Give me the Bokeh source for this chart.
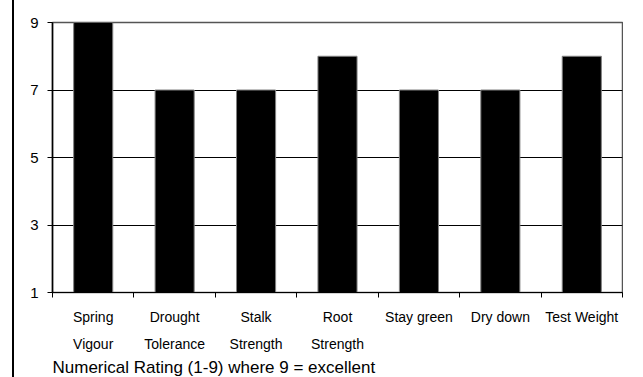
from bokeh.plotting import figure
from bokeh.models import Range1d, FixedTicker, LinearAxis, Title, Grid, ColumnDataSource
from bokeh.embed import file_html
from bokeh.resources import INLINE

# ---- data ----
categories_line1 = ["Spring", "Drought", "Stalk", "Root", "Stay green", "Dry down", "Test Weight"]
categories_line2 = ["Vigour", "Tolerance", "Strength", "Strength", "", "", ""]
ratings = [9, 7, 7, 8, 7, 7, 8]
y_ticks = [1, 3, 5, 7, 9]
grid_ticks = [3, 5, 7, 9]
caption = "Numerical Rating (1-9) where 9 = excellent"

n = len(ratings)
centers = [i + 0.5 for i in range(n)]
bounds = list(range(n + 1))

FONT = "Liberation Sans"

p = figure(width=611, height=377, x_range=Range1d(0, n), y_range=Range1d(1, 9),
           output_backend="svg", toolbar_location=None,
           x_axis_type=None, y_axis_type=None,
           min_border_left=38, min_border_right=3, min_border_top=22, min_border_bottom=0)
# left border line of the chart box (drawn by the page element itself)
p.styles = {"margin-left": "12px", "border-left": "2px solid black"}
p.outline_line_color = "#555555"
p.outline_line_width = 1.5
p.background_fill_color = "white"
p.border_fill_color = "white"

p.add_layout(Grid(dimension=1, ticker=FixedTicker(ticks=grid_ticks),
                  grid_line_color="black", grid_line_width=1))

src = ColumnDataSource(dict(x=centers, top=ratings, bottom=[1] * n))
p.vbar(x="x", top="top", bottom="bottom", width=0.48, source=src,
       fill_color="black", line_color="#808080", line_width=1)

yax = LinearAxis(ticker=FixedTicker(ticks=y_ticks), major_tick_in=0, major_tick_out=5,
                 minor_tick_in=0, minor_tick_out=0,
                 major_label_text_font=FONT, major_label_text_font_size="15px",
                 major_label_text_color="black", major_label_standoff=9,
                 axis_line_color="black", axis_line_width=1.5,
                 major_tick_line_color="black")
p.add_layout(yax, "left")

xax1 = LinearAxis(ticker=FixedTicker(ticks=centers, minor_ticks=bounds),
                  major_label_overrides={c: l for c, l in zip(centers, categories_line1)},
                  major_tick_in=0, major_tick_out=0, minor_tick_in=0, minor_tick_out=5,
                  major_label_text_font=FONT, major_label_text_font_size="14px",
                  major_label_text_color="black", major_label_standoff=11,
                  axis_line_color="black", minor_tick_line_color="black")
p.add_layout(xax1, "below")

xax2 = LinearAxis(ticker=FixedTicker(ticks=centers),
                  major_label_overrides={c: l for c, l in zip(centers, categories_line2)},
                  major_tick_in=0, major_tick_out=0, minor_tick_in=0, minor_tick_out=0,
                  major_label_text_font=FONT, major_label_text_font_size="14px",
                  major_label_text_color="black", major_label_standoff=8,
                  axis_line_color=None)
p.add_layout(xax2, "below")

t = Title(text=caption, align="left", text_font=FONT, text_font_size="17px",
          text_font_style="normal", text_color="black", standoff=2, offset=0)
p.add_layout(t, "below")

open("out.html", "w").write(file_html(p, INLINE))
